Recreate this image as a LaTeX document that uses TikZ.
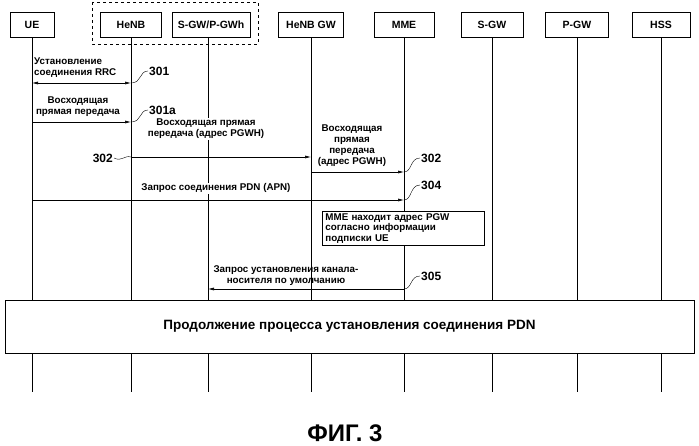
\documentclass[tikz,border=0pt]{standalone}
\usepackage{fontspec}
\setmainfont{Liberation Sans}
\usetikzlibrary{arrows.meta}
\begin{document}
\begin{tikzpicture}[x=1pt,y=-1pt,
ent/.style={draw,line width=0.9pt,minimum height=25pt,inner sep=1pt,font=\fontsize{10.5}{12}\selectfont\bfseries},
lbl/.style={font=\fontsize{9.8}{11}\selectfont\bfseries,align=left,fill=white,inner sep=1pt},
num/.style={font=\fontsize{12}{13}\selectfont\bfseries,inner sep=1pt},
msg/.style={-{Latex[length=6pt,width=3pt]},line width=0.6pt},
life/.style={line width=0.6pt},
sq/.style={line width=0.4pt}]
\useasboundingbox (0,0) rectangle (699,446);
\node[ent,minimum width=44pt] (ue) at (32,24.5) {UE};
\node[ent,minimum width=61pt] (henb) at (131,24.5) {HeNB};
\node[ent,minimum width=78pt] (sgwh) at (211,24.5) {S-GW/P-GWh};
\node[ent,minimum width=65pt] (henbgw) at (311,24.5) {HeNB GW};
\node[ent,minimum width=60pt] (mme) at (404,24.5) {MME};
\node[ent,minimum width=62pt] (sgw) at (492,24.5) {S-GW};
\node[ent,minimum width=63pt] (pgw) at (577,24.5) {P-GW};
\node[ent,minimum width=58pt] (hss) at (661,24.5) {HSS};
\draw[dashed,line width=0.6pt] (92,2) rectangle (258,44);
% lifelines
\foreach \n/\x in {ue/32,henb/131,henbgw/311,mme/404,sgw/492,pgw/577,hss/661}
  \draw[life] (\n.south) -- (\x,392);
\draw[life] (208,37) -- (208,392);
% big box
\node[draw,line width=0.9pt,fill=white,minimum width=689pt,minimum height=53pt,font=\fontsize{13.5}{15}\selectfont\bfseries] (cont) at (349.5,326.5) {Продолжение процесса установления соединения PDN};
% 301
\coordinate (a1) at (32,83); \coordinate (b1) at (131,83);
\draw[{Latex[length=6pt,width=3pt]}-{Latex[length=6pt,width=3pt]},line width=0.6pt] (a1) -- (b1);
\node[lbl,anchor=south west,fill=none] (l301) at (33,79) {Установление\\соединения RRC};
\node[num,anchor=west] (n301) at (148,71) {301};
\draw[sq] (n301.west) .. controls (139,71) and (142,83) .. (b1);
% 301a
\coordinate (a2) at (32,122); \coordinate (b2) at (131,122);
\draw[msg] (a2) -- (b2);
\node[lbl,align=center,anchor=south,fill=none] (l301a) at (78,118) {Восходящая\\прямая передача};
\node[num,anchor=west] (n301a) at (148,110) {301a};
\node[lbl,align=center,anchor=north] (l302a) at (206,118) {Восходящая прямая\\передача (адрес PGWH)};
\draw[sq] (n301a.west) .. controls (139,110) and (142,122) .. (b2);
% 302
\coordinate (a3) at (131,157); \coordinate (b3) at (311,157);
\draw[msg] (a3) -- (b3);
\node[num,anchor=east] (n302) at (114,158) {302};
\draw[sq] (n302.east) .. controls (122,162) and (124,155) .. (a3);
\coordinate (a4) at (311,172); \coordinate (b4) at (404,172);
\draw[msg] (a4) -- (b4);
\node[lbl,align=center,anchor=south,fill=none] (l302b) at (352,168) {Восходящая\\прямая\\передача\\(адрес PGWH)};
\node[num,anchor=west] (n302b) at (420,158) {302};
\draw[sq] (n302b.west) .. controls (410,158) and (412,172) .. (b4);
% 304
\coordinate (a5) at (32,200); \coordinate (b5) at (404,200);
\draw[msg] (a5) -- (b5);
\node[lbl,anchor=south] (l304) at (216,194) {Запрос соединения PDN (APN)};
\node[num,anchor=west] (n304) at (420,185) {304};
\draw[sq] (n304.west) .. controls (410,185) and (412,200) .. (b5);
% MME box
\node[draw,line width=0.9pt,fill=white,minimum width=162pt,minimum height=32pt,anchor=north west,align=left,inner sep=2pt,text width=156pt,font=\fontsize{9.8}{10.5}\selectfont\bfseries] (mbox) at (322,211) {MME находит адрес PGW\\согласно информации\\подписки UE};
% 305
\coordinate (a6) at (404,289); \coordinate (b6) at (208,289);
\draw[msg] (a6) -- (b6);
\node[lbl,align=center,anchor=south,fill=none] (l305) at (286,287) {Запрос установления канала-\\носителя по умолчанию};
\node[num,anchor=west] (n305) at (420,276) {305};
\draw[sq] (n305.west) .. controls (410,276) and (412,289) .. (a6);
\node[font=\fontsize{24}{26}\selectfont\bfseries] (fig) at (345,433) {ФИГ. 3};
\end{tikzpicture}
\end{document}
